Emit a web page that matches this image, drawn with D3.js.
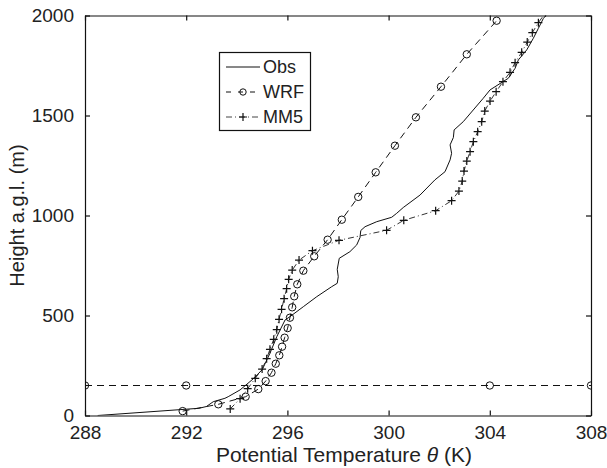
<!DOCTYPE html>
<html>
<head>
<meta charset="utf-8">
<script src="https://cdn.jsdelivr.net/npm/d3@7"></script>
<style>
  body { margin: 0; background: #fff; }
  text { font-family: "Liberation Sans", Arial, sans-serif; fill: #222; }
</style>
</head>
<body>
<div id="chart"></div>
<script>
// potential temperature profiles [theta (K), height (m)]
const obs = [[288.5,0],[292.5,36],[292.8,45],[293.07,69],[293.53,86],[293.66,94],[294.13,128],[294.6,178],
  [295.0,228],[295.31,311],[295.58,394],[295.91,478],[296.1,494],[296.63,544],[297.16,594],[297.75,644],
  [297.97,661],[298.01,694],[297.97,731],[298.05,786],[298.47,819],[298.74,853],[298.87,890],[298.9,925],
  [299.07,944],[299.53,969],[300.12,991],[300.32,1011],[300.58,1040],[301.24,1102],[301.83,1178],[302.23,1219],
  [302.43,1278],[302.49,1311],[302.43,1353],[302.56,1390],[302.59,1428],[302.95,1469],[303.74,1586],
  [304.01,1628],[304.73,1686],[305.0,1736],[305.13,1778],[305.46,1828],[305.72,1886],[305.92,1936],
  [306.12,1986],[306.22,2000]];

const wrf = [[291.86,22],[293.27,56],[294.35,94],[294.85,132],[295.14,172],[295.37,214],[295.54,259],
  [295.68,301],[295.79,344],[295.89,389],[296.01,437],[296.1,489],[296.19,541],[296.27,596],[296.39,656],
  [296.63,724],[297.06,796],[297.59,879],[298.15,979],[298.8,1093],[299.49,1216],[300.25,1349],
  [301.08,1491],[302.07,1644],[303.09,1806],[304.27,1974]];

const mm5 = [[293.74,33],[294.13,84],[294.43,134],[294.73,186],[295.0,232],[295.18,284],[295.31,331],
  [295.46,381],[295.58,429],[295.67,481],[295.77,531],[295.87,584],[295.97,634],[296.05,681],[296.19,727],
  [296.46,777],[296.99,824],[298.04,876],[299.92,926],[300.6,976],[301.86,1024],[302.49,1074],[302.78,1122],
  [302.91,1172],[302.98,1222],[303.09,1272],[303.22,1319],[303.35,1369],[303.52,1419],[303.68,1469],
  [303.8,1522],[304.01,1572],[304.25,1619],[304.52,1669],[304.8,1716],[305.0,1764],[305.26,1816],
  [305.48,1867],[305.68,1914],[305.92,1964],[306.2,2014]];

// boundary layer height line (WRF style)
const blhTheta = [288, 292, 304, 308];
const blhHeight = 150;

const xTicks = [288, 292, 296, 300, 304, 308];
const yTicks = [0, 500, 1000, 1500, 2000];
const legendNames = ["Obs", "WRF", "MM5"];

const width = 607, height = 468;
const margin = {top: 15.5, right: 16, bottom: 52.5, left: 85};

const svg = d3.select("#chart").append("svg")
  .attr("width", width).attr("height", height);

const x = d3.scaleLinear().domain([288, 308]).range([margin.left, width - margin.right]);
const y = d3.scaleLinear().domain([0, 2000]).range([height - margin.bottom, margin.top]);

svg.append("clipPath").attr("id", "clip").append("rect")
  .attr("x", x(288)).attr("y", y(2000)).attr("width", x(308) - x(288)).attr("height", y(0) - y(2000));

const plot = svg.append("g").attr("clip-path", "url(#clip)");
const line = d3.line().x(d => x(d[0])).y(d => y(d[1]));

// obs
plot.append("path").datum(obs).attr("d", line)
  .attr("fill", "none").attr("stroke", "#111").attr("stroke-width", 1);

// wrf
plot.append("path").datum(wrf).attr("d", line)
  .attr("fill", "none").attr("stroke", "#111").attr("stroke-width", 1).attr("stroke-dasharray", "7,5");
plot.selectAll(".wrfpt").data(wrf).join("circle")
  .attr("cx", d => x(d[0])).attr("cy", d => y(d[1])).attr("r", 3.7)
  .attr("fill", "none").attr("stroke", "#111").attr("stroke-width", 1);

// blh
const blh = blhTheta.map(t => [t, blhHeight]);
plot.append("path").datum(blh).attr("d", line)
  .attr("fill", "none").attr("stroke", "#111").attr("stroke-width", 1).attr("stroke-dasharray", "7,5");
plot.selectAll(".blhpt").data(blh).join("circle")
  .attr("cx", d => x(d[0])).attr("cy", d => y(d[1])).attr("r", 3.7)
  .attr("fill", "none").attr("stroke", "#111").attr("stroke-width", 1);

// mm5
plot.append("path").datum(mm5).attr("d", line)
  .attr("fill", "none").attr("stroke", "#333").attr("stroke-width", 1).attr("stroke-dasharray", "6,3,1,3");
plot.selectAll(".mm5pt").data(mm5).join("path")
  .attr("transform", d => `translate(${x(d[0])},${y(d[1])})`)
  .attr("d", "M-4,0H4M0,-4V4")
  .attr("stroke", "#111").attr("stroke-width", 1.2);

// axes (ticks inside, box)
const tl = 5;
const axB = svg.append("g").attr("transform", `translate(0,${y(0)})`)
  .call(d3.axisBottom(x).tickValues(xTicks).tickSizeInner(-tl).tickSizeOuter(0).tickPadding(10));
const axT = svg.append("g").attr("transform", `translate(0,${y(2000)})`)
  .call(d3.axisTop(x).tickValues(xTicks).tickSizeInner(-tl).tickSizeOuter(0).tickFormat(""));
const axL = svg.append("g").attr("transform", `translate(${x(288)},0)`)
  .call(d3.axisLeft(y).tickValues(yTicks).tickFormat(d3.format("d")).tickSizeInner(-tl).tickSizeOuter(0).tickPadding(11));
const axR = svg.append("g").attr("transform", `translate(${x(308)},0)`)
  .call(d3.axisRight(y).tickValues(yTicks).tickSizeInner(-tl).tickSizeOuter(0).tickFormat(""));

[axB, axT, axL, axR].forEach(a => {
  a.selectAll("path, line").attr("stroke", "#111").attr("stroke-width", 1.2);
  a.selectAll("text").style("font-size", "19px").attr("fill", "#222")
    .style("font-family", "'Liberation Sans', Arial, sans-serif");
});
axB.selectAll("text").attr("dy", "0.71em");
axL.selectAll("text").attr("dy", "0.3em");

// axis titles
const xl = svg.append("text").attr("x", (x(288) + x(308)) / 2 + 6).attr("y", 462)
  .attr("text-anchor", "middle").style("font-size", "21px");
xl.append("tspan").text("Potential Temperature ");
xl.append("tspan").text("θ").style("font-style", "italic");
xl.append("tspan").text(" (K)");

svg.append("text").attr("transform", `translate(24,${(y(0) + y(2000)) / 2}) rotate(-90)`)
  .attr("text-anchor", "middle").style("font-size", "20px").text("Height a.g.l. (m)");

// legend
const lg = svg.append("g");
lg.append("rect").attr("x", 219.5).attr("y", 52.5).attr("width", 91).attr("height", 78)
  .attr("fill", "#fff").attr("stroke", "#111").attr("stroke-width", 1.2);
const ly = [67, 92, 117];
legendNames.forEach((n, i) => {
  const g = lg.append("g");
  const ln = g.append("line").attr("x1", 226).attr("x2", 260).attr("y1", ly[i]).attr("y2", ly[i])
    .attr("stroke", "#111").attr("stroke-width", 1);
  if (n === "WRF") {
    ln.attr("stroke-dasharray", "5,7");
    g.append("circle").attr("cx", 243).attr("cy", ly[i]).attr("r", 3.2)
      .attr("fill", "none").attr("stroke", "#111");
  }
  if (n === "MM5") {
    ln.attr("stroke-dasharray", "6,3,1,3").attr("stroke", "#444");
    g.append("path").attr("transform", `translate(243,${ly[i]})`).attr("d", "M-4,0H4M0,-4V4")
      .attr("stroke", "#111").attr("stroke-width", 1.2);
  }
  g.append("text").attr("x", 263).attr("y", ly[i]).attr("dy", "0.35em")
    .style("font-size", "18px").text(n);
});
</script>
</body>
</html>
